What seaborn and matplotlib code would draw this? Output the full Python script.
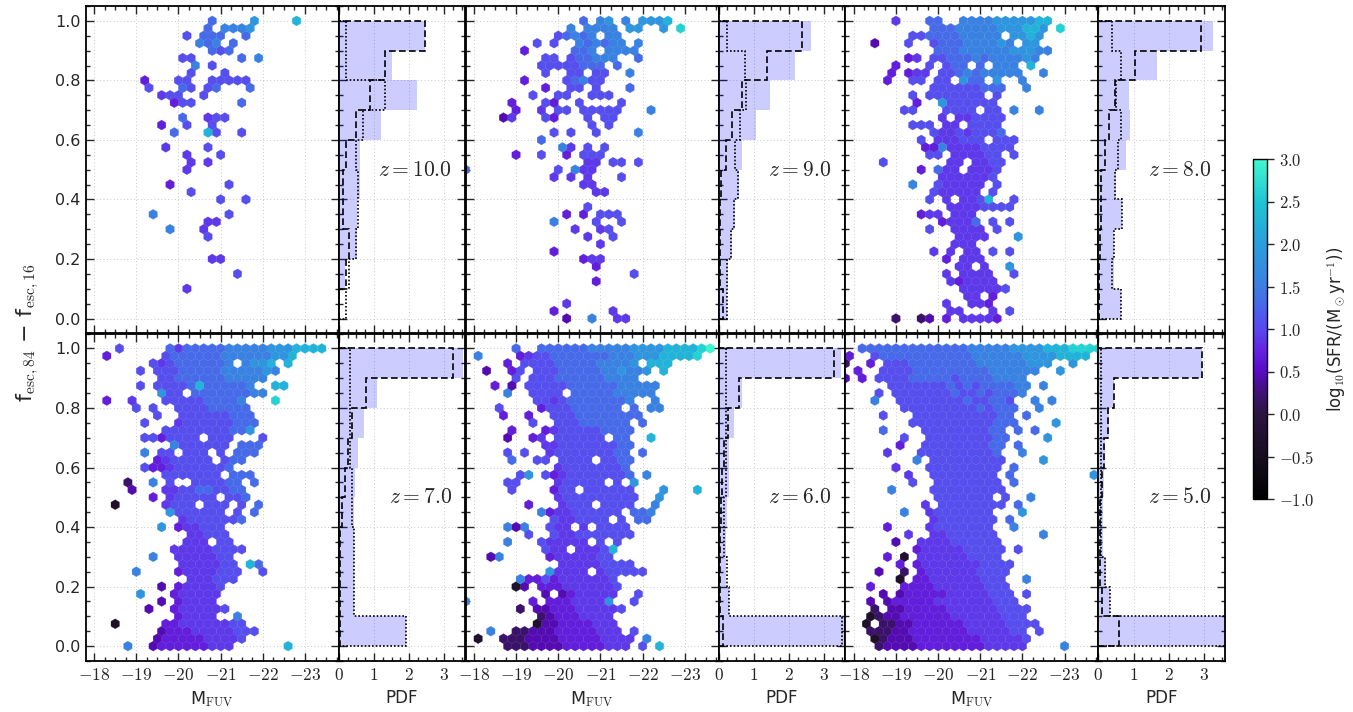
import numpy as np
import matplotlib
matplotlib.use('Agg')
import matplotlib.pyplot as plt
from matplotlib.colors import LinearSegmentedColormap
from matplotlib.ticker import MultipleLocator, FuncFormatter
import seaborn as sns

redshifts = [10.0, 9.0, 8.0, 7.0, 6.0, 5.0]

# colour code used in the hex grids -> log10 SFR
sfr_code = {'0': -0.3, '1': 0.2, '2': 0.45, '3': 0.7, '4': 0.9, '5': 1.05,
            '6': 1.3, '7': 1.55, '8': 1.85, '9': 2.25, 'c': 2.6, 'a': 2.95}

# hex grids: one string per hex row from f=1.0 down to 0.0
# (step 0.025), one character per hex from M=-17.8 towards -23.8 (step 0.2,
# odd rows shifted by 0.1), '.' = empty, '|' only groups 5 columns
hex_z10 = [
    ".....|.....|.....|6....|8....|9",
    ".....|.....|....6|.7778",
    ".....|.....|..5.6|66..6",
    ".....|.....|...76|7.6",
    ".....|.....|.....|656",
    ".....|.....|.55..|...6.|7",
    ".....|.....|...7.|5",
    ".....|.....|..5..|.5",
    ".....|..3..|.55..|55555",
    ".....|..5..|.65.5|6...6",
    ".....|....4|55..5",
    ".....|.....|355..|...6",
    "",
    ".....|.....|.6..4|55",
    ".....|....3|..5..|5",
    ".....|.....|6...9|5..5",
    "",
    ".....|....4|....5",
    ".....|.....|..4..|.5",
    ".....|.....|..4.4",
    ".....|.....|..4",
    "",
    ".....|.....|3....|..5",
    ".....|.....|..5",
    ".....|.....|.....|.5..5",
    "",
    ".....|...7.|.....|..5",
    ".....|.....|....4|4",
    ".....|.....|7...4",
    ".....|.....|....5",
    "",
    "",
    ".....|.....|.....|44",
    "",
    ".....|.....|.....|...5",
    "",
    ".....|.....|..4",
]

hex_z9 = [
    ".....|.....|....6|.78.7|.8889",
    ".....|.....|..7.7|777.8|8..8.|c",
    ".....|.....|.5676|7.77",
    ".....|...5.|5..76|7677.|7",
    ".....|..3..|...66|7.777|7",
    ".....|....5|5.566|777..|6",
    ".....|....5|55556|66.6",
    ".....|....5|..55.|55..7",
    ".....|..3..|..567|55",
    ".....|....3|..55.|5...6",
    ".....|...5.|.55..|555",
    ".....|3...5|3..5.|...5",
    ".....|.3..4|.55.5|5555.|..7",
    "....2|4...5|3...5|.55",
    ".....|.....|.....|5.5",
    ".....|.....|5.5..|5....|7",
    ".....|....6",
    ".....|.....|.74.5|.5",
    ".....|.3..5|..3.5|55",
    ".....|.....|....4|4.55.|5",
    "6....|.....|.5.74|4",
    ".....|.....|4.4.4|...5",
    ".....|.....|....4|4",
    ".....|.....|.....|44",
    "",
    ".....|.....|....5",
    ".....|.....|..3.3|.555",
    ".....|.....|7....|5..5",
    ".....|.....|...4.|.45",
    ".....|.....|....4|..5",
    ".....|.....|.....|.4",
    ".....|.....|3",
    ".....|.....|....3|44",
    ".....|.....|.....|3",
    ".....|.....|.....|.....|5",
    ".....|.....|.....|3",
    "",
    "",
    ".....|.....|..4",
    ".....|.....|3....|..4",
    ".....|.....|..2..|7..44",
]

hex_z8 = [
    ".....|.4...|66..7|77788|88899",
    ".....|.....|66677|77788|8998.|c",
    ".....|...55|66667|7777.|8898",
    "...2.|..5..|56667|77787|.88",
    ".....|.....|.6667|77777|88877",
    ".....|..34.|55666|76777|787",
    ".....|.3...|5.566|.6.77|7.9",
    ".....|3.344|.5567|67777|7..7",
    ".....|3..55|.55.8|66.8.|.7",
    ".....|.....|55555|5666.|.7",
    ".....|...5.|55555|55.5",
    ".....|...3.|.8555|555",
    ".....|..55.|..555|5.55.|7..7",
    ".....|.....|.4.44|5555",
    ".....|...55|5.44.|5555",
    ".....|.....|54454|5556",
    ".....|....5|.4445|55.55|5",
    ".....|....3|37444|45555",
    ".....|.....|55.44|4455.|5",
    "....5|.....|..44.|4455",
    ".....|....3|.644.|4445",
    ".....|.....|.4444|445",
    ".....|...7.|.5444|44.5",
    ".....|.....|54444|4.5",
    ".....|.....|5.4.4|459..|5",
    ".....|.....|..444|45555",
    ".....|....3|44.44|4",
    ".....|.....|.3444|6.5.5",
    ".....|.....|5..44|44.5",
    ".....|.....|...44|44...|8",
    ".....|.....|...44|4",
    ".....|.....|4.4.4|4.5.5",
    ".....|.....|..3.4|44",
    ".....|.....|...44|.4..8",
    ".....|.....|..4.4|444..|5",
    ".....|.....|..434|444",
    ".....|.....|....4|44445",
    ".....|.....|....4|4.3",
    ".....|.....|..4..|443",
    ".....|.....|..44.|..4.5",
    ".....|.1..1|2.3.4|4443",
]

hex_z7 = [
    "....5|.....|64666|66777|77888|9999",
    "..3..|....5|66666|67777|77889",
    ".....|...54|56666|667.7|889.9",
    ".....|.5.55|56666|67777|787",
    ".....|....5|56666|66777|77",
    ".....|.5.55|55696|66667|..99",
    ".....|....8|55.66|66666|77",
    "..3..|4...5|55556|6667.|..c",
    ".....|.5.5.|.5555|66666",
    ".....|...5.|.5555|55666",
    ".....|..5..|.4555|55566|6",
    ".....|....5|55555|55668",
    ".....|..553|5555.|555..|.5",
    ".....|.....|75555|55.66|6",
    ".....|..7.5|5.555|.5.66|6",
    ".....|...34|55555|.566",
    ".....|..533|45555|556",
    ".....|....5|55555|5.666",
    ".....|1..7.|5..55|5566.|6",
    ".....|2...4|45566|5566",
    ".....|...3.|45555|5.556",
    "...0.|....4|555.5|55.5.|6",
    ".....|.....|85555|55.5.|6",
    ".....|.....|.4555|5556",
    ".....|....8|.3445|55",
    ".....|.....|..445|55",
    ".....|.....|..444|.55",
    ".....|.....|44444|5555",
    ".....|...7.|.4444|455",
    ".....|.....|.4444|455.9|6",
    ".....|.7...|.3444|4555.|.5",
    ".....|.....|..444|555",
    ".....|....2|.3444|45",
    ".....|.8...|34444|4",
    ".....|....2|.3444|4",
    ".....|..2..|34444|45",
    ".....|.....|.3444|4..7",
    "...0.|....3|34444|4455",
    ".....|....2|33344|44455|5",
    ".....|...23|33334|4445",
    ".....|7..23|33333|444..|....9",
]

hex_z6 = [
    ".....|.6..6|66666|77777|88889|999ca",
    ".7...|.3455|66666|66777|88899|99c",
    ".....|3.555|56666|67777|8.999",
    "..2..|35.55|56666|67787|78.9",
    ".....|.5.55|56666|66777|7",
    "...3.|2.555|55666|66677|777",
    ".....|7..55|55.66|66677|777",
    ".....|...55|45666|66667|..7",
    "....5|....3|55566|6666.|6.77",
    "....3|..3..|55566|66666|6",
    ".....|...5.|.5556|66666|.6",
    ".....|3...3|45555|56666",
    ".....|2..34|.5555|55.66|..9",
    ".....|....4|45555|55566",
    ".....|5.5..|45555|55566|.6",
    ".....|6..55|.5555|.5566",
    ".....|.....|.4555|55556",
    ".....|.58.5|34555|55556|.7",
    ".....|55...|.4555|55.5.|8",
    ".....|5....|355.5|55555|...8.|..9",
    ".....|.....|.4555|55555|5..8",
    ".....|..3..|.4555|.5555|..7",
    ".....|....7|34455|5555.|667",
    ".....|.....|54455|55.5.|66",
    ".....|727..|544.4|.5555",
    ".....|..5..|54455|55555",
    ".....|7...5|44444|.5.5",
    ".....|....5|44.44|459",
    "...27|.....|34444|455",
    ".....|.....|.4444|45555",
    ".....|.....|84444|.4555|55",
    ".....|.7335|34444|445",
    ".....|.02.3|33444|4445",
    ".....|....2|.2344|444..|5",
    "7....|...3.|33344|448..|5",
    ".....|.1.22|33344|4445",
    ".....|....1|23334|444",
    ".....|...02|23333|444",
    "...7.|.1122|23333|3444.|5",
    ".0..1|11222|23333|34444|.7",
    ".....|11122|22333|33444|.5.9",
]

hex_z5 = [
    "..666|66666|66666|77777|88889|99ccc|c",
    "3..56|66666|66666|77777|78888|9999",
    "1..3.|55566|66666|67777|77888|..8",
    ".3..5|55566|66666|66777|777..|8",
    "2.3.5|55566|66656|66677|77",
    ".....|55555|55656|56666|77.7",
    "....5|.5555|55565|56566|67",
    "...7.|.5555|55556|55665|..7.7",
    ".....|..555|55555|56566|6..7",
    "....5|...55|55555|55566|.6",
    ".....|...55|55555|55566|6....|8",
    "....6|....5|55555|5566.|6.6",
    ".....|..5..|55555|55566|....8",
    ".....|.3..5|55555|5566.|6",
    ".....|4...5|55555|5556.|.7",
    ".....|...7.|55555|5555.|...8",
    ".....|.4...|55555|5555.|6",
    ".....|..4..|55555|555.6|.....|....8",
    ".....|...5.|.5555|5555.|6",
    ".....|7....|55555|5555",
    ".....|.....|.5555|555.5|..7",
    ".....|....4|.5555|5555.|6",
    ".....|..7..|45555|555..|.8",
    ".....|.....|45555|555.6",
    ".....|3....|45555|555..|7",
    ".....|..4..|44555|555..|...7",
    ".....|.2..4|44455|5555",
    ".....|...34|44445|5555.|5",
    ".....|3.0.4|44444|5555",
    ".....|.3.34|44444|45555",
    "....2|..1.3|44444|45555",
    ".....|.0.33|44444|4555.|.7",
    "...3.|..333|34444|44555",
    "....2|.2333|33444|44555|.5",
    "...2.|23333|34444|44455|5",
    "...1.|22333|33444|44455|55",
    "...01|22333|33344|44445|55",
    "..0.1|12233|33334|44445|555",
    "...11|12233|33333|44444|55.5",
    "...01|22233|33333|34444|45",
    "....1|22223|33333|33444|44...|.7",
]

# PDFs of f_esc,84 - f_esc,16, bins 0-0.1 ... 0.9-1.0 (bottom bin first)
bin_edges = [0.0, 0.1, 0.2, 0.3, 0.4, 0.5, 0.6, 0.7, 0.8, 0.9, 1.0]
bin_mid = [0.05, 0.15, 0.25, 0.35, 0.45, 0.55, 0.65, 0.75, 0.85, 0.95]

pdf_fill_z10 = [0.0, 0.19, 0.52, 0.52, 0.6, 0.6, 1.21, 2.22, 1.5, 2.45]
pdf_dash_z10 = [0.0, 0.2, 0.28, 0.12, 0.12, 0.2, 0.5, 0.9, 1.32, 2.44]
pdf_dot_z10 = [0.2, 0.3, 0.5, 0.55, 0.55, 0.5, 0.7, 1.32, 0.2, 0.2]

pdf_fill_z9 = [0.25, 0.28, 0.39, 0.47, 0.59, 0.66, 1.06, 1.47, 2.17, 2.62]
pdf_dash_z9 = [0.12, 0.05, 0.05, 0.05, 0.07, 0.22, 0.37, 0.68, 1.39, 2.37]
pdf_dot_z9 = [0.25, 0.25, 0.35, 0.44, 0.56, 0.48, 0.6, 0.77, 0.75, 0.25]

pdf_fill_z8 = [0.64, 0.45, 0.45, 0.66, 0.5, 0.79, 0.91, 0.87, 1.66, 3.26]
pdf_dash_z8 = [0.02, 0.02, 0.04, 0.07, 0.07, 0.18, 0.3, 0.48, 1.04, 2.92]
pdf_dot_z8 = [0.64, 0.38, 0.45, 0.66, 0.47, 0.57, 0.64, 0.49, 0.64, 0.38]

pdf_fill_z7 = [1.9, 0.44, 0.44, 0.44, 0.44, 0.47, 0.56, 0.72, 1.08, 3.53]
pdf_dash_z7 = [0.03, 0.03, 0.03, 0.03, 0.1, 0.18, 0.25, 0.39, 0.77, 3.25]
pdf_dot_z7 = [1.9, 0.44, 0.44, 0.44, 0.37, 0.37, 0.31, 0.31, 0.31, 0.31]

pdf_fill_z6 = [3.57, 0.3, 0.2, 0.2, 0.25, 0.3, 0.3, 0.44, 0.68, 3.48]
pdf_dash_z6 = [0.13, 0.05, 0.05, 0.05, 0.07, 0.1, 0.16, 0.28, 0.59, 3.29]
pdf_dot_z6 = [3.52, 0.31, 0.25, 0.16, 0.16, 0.2, 0.2, 0.2, 0.2, 0.2]

pdf_fill_z5 = [3.8, 0.34, 0.23, 0.13, 0.13, 0.15, 0.18, 0.3, 0.44, 2.95]
pdf_dash_z5 = [0.6, 0.11, 0.06, 0.05, 0.06, 0.1, 0.16, 0.28, 0.44, 2.93]
pdf_dot_z5 = [3.9, 0.32, 0.2, 0.07, 0.07, 0.07, 0.07, 0.07, 0.07, 0.07]

cbar_ticks = [-1.0, -0.5, 0.0, 0.5, 1.0, 1.5, 2.0, 2.5, 3.0]

hex_grids = [hex_z10, hex_z9, hex_z8, hex_z7, hex_z6, hex_z5]
pdf_fill = [pdf_fill_z10, pdf_fill_z9, pdf_fill_z8, pdf_fill_z7, pdf_fill_z6, pdf_fill_z5]
pdf_dash = [pdf_dash_z10, pdf_dash_z9, pdf_dash_z8, pdf_dash_z7, pdf_dash_z6, pdf_dash_z5]
pdf_dot = [pdf_dot_z10, pdf_dot_z9, pdf_dot_z8, pdf_dot_z7, pdf_dot_z6, pdf_dot_z5]


def hex_points(rows):
    xs, ys, cs = [], [], []
    for r, row in enumerate(rows):
        for i, ch in enumerate(row.replace('|', '')):
            if ch == '.':
                continue
            xs.append(-17.8 - 0.2 * i - 0.1 * (r % 2))
            ys.append(1.0 - 0.025 * r)
            cs.append(sfr_code[ch])
    return xs, ys, cs


sns.set_style('ticks')
plt.rcParams.update({
    'font.family': 'DejaVu Sans',
    'mathtext.fontset': 'cm',
    'xtick.direction': 'in',
    'ytick.direction': 'in',
    'axes.linewidth': 1.3,
    'axes.edgecolor': 'black',
})

# black -> purple -> blue -> aquamarine
cmap = LinearSegmentedColormap.from_list('sfr', [
    (0.0, '#000000'), (0.125, '#170d1e'), (0.25, '#2c1442'), (0.3125, '#3f1276'),
    (0.375, '#5a0ac4'), (0.4375, '#6424e2'), (0.5, '#5a48ee'), (0.5625, '#4a64ea'),
    (0.625, '#3c7ee2'), (0.75, '#2a9edc'), (0.875, '#1cc6d4'), (1.0, '#40f8d0')])

W, H = 1353, 712
fig = plt.figure(figsize=(W / 100, H / 100), dpi=100)
hex_w, pdf_w = 253 / W, 126.8 / W
row_h = 327.4 / H
row_bottom = [1 - 333.4 / H, 1 - 661 / H]

grid_kw = dict(ls=(0, (1, 2.5)), color='#c8c8c8', lw=0.7)
math_int = FuncFormatter(lambda v, p: f'${v:.0f}$')

for k, z in enumerate(redshifts):
    row, col = divmod(k, 3)
    left = (85.7 + 379.8 * col) / W
    ax = fig.add_axes([left, row_bottom[row], hex_w, row_h])
    axp = fig.add_axes([left + hex_w, row_bottom[row], pdf_w, row_h])

    xs, ys, cs = hex_points(hex_grids[k])
    hb = ax.hexbin(xs, ys, C=cs, gridsize=(32, 20), extent=(-24.0, -17.6, 0.0, 1.0),
                   reduce_C_function=np.mean, cmap=cmap, vmin=-1, vmax=3,
                   linewidths=0.2, edgecolors='face')
    ax.set_xlim(-17.8, -23.8)
    ax.set_ylim(-0.05, 1.05)

    sns.histplot(y=bin_mid, weights=pdf_fill[k], bins=bin_edges, element='step',
                 fill=True, color='blue', alpha=0.2, linewidth=0, ax=axp)
    axp.stairs(pdf_dash[k], bin_edges, orientation='horizontal', baseline=0,
               color='k', linestyle=(0, (4, 2)), lw=1.2)
    axp.stairs(pdf_dot[k], bin_edges, orientation='horizontal', baseline=0,
               color='k', linestyle=(0, (1, 1.2)), lw=1.2)
    axp.set_xlim(0, 3.6)
    axp.set_ylim(-0.05, 1.05)
    axp.text(0.89, 0.5, f'$z = {z:.1f}$', transform=axp.transAxes,
             ha='right', va='center', fontsize=15.5)

    for a in (ax, axp):
        a.yaxis.set_major_locator(MultipleLocator(0.2))
        a.yaxis.set_minor_locator(MultipleLocator(0.05))
        a.xaxis.set_minor_locator(MultipleLocator(0.25))
        a.tick_params(which='both', direction='in', top=True, right=True, width=1)
        a.tick_params(axis='x', labelsize=12.5)
        a.tick_params(axis='y', labelsize=11.5)
        a.tick_params(which='major', length=6)
        a.tick_params(which='minor', length=3)
        a.grid(True, which='major', **grid_kw)
        a.set_axisbelow(True)
        a.set_ylabel('')
        a.set_xlabel('')
    ax.xaxis.set_major_locator(MultipleLocator(1))
    ax.xaxis.set_major_formatter(math_int)
    axp.xaxis.set_major_locator(MultipleLocator(1))
    axp.xaxis.set_major_formatter(math_int)
    axp.tick_params(labelleft=False)
    if col > 0:
        ax.tick_params(labelleft=False)
    if row == 0:
        ax.tick_params(labelbottom=False)
        axp.tick_params(labelbottom=False)
    else:
        ax.set_xlabel(r'M$_{\rm FUV}$', fontsize=12.5)
        axp.set_xlabel('PDF', fontsize=12)

fig.text(28 / W, 1 - 333 / H, 'f$_{\\rm esc,84}$ − f$_{\\rm esc,16}$',
         rotation=90, ha='center', va='center', fontsize=16)

cax = fig.add_axes([1252.7 / W, 1 - 499 / H, 14 / W, 340 / H])
cbar = fig.colorbar(hb, cax=cax, ticks=cbar_ticks)
cbar.ax.yaxis.set_major_formatter(FuncFormatter(lambda v, p: f'${v:.1f}$'))
cbar.ax.tick_params(direction='out', length=5, width=1, labelsize=12)
cbar.outline.set_linewidth(1)
cbar.set_label(r'log$_{10}$(SFR/(M$_\odot$yr$^{-1}$))', fontsize=12, labelpad=8)

fig.savefig('out.png', dpi=100)
